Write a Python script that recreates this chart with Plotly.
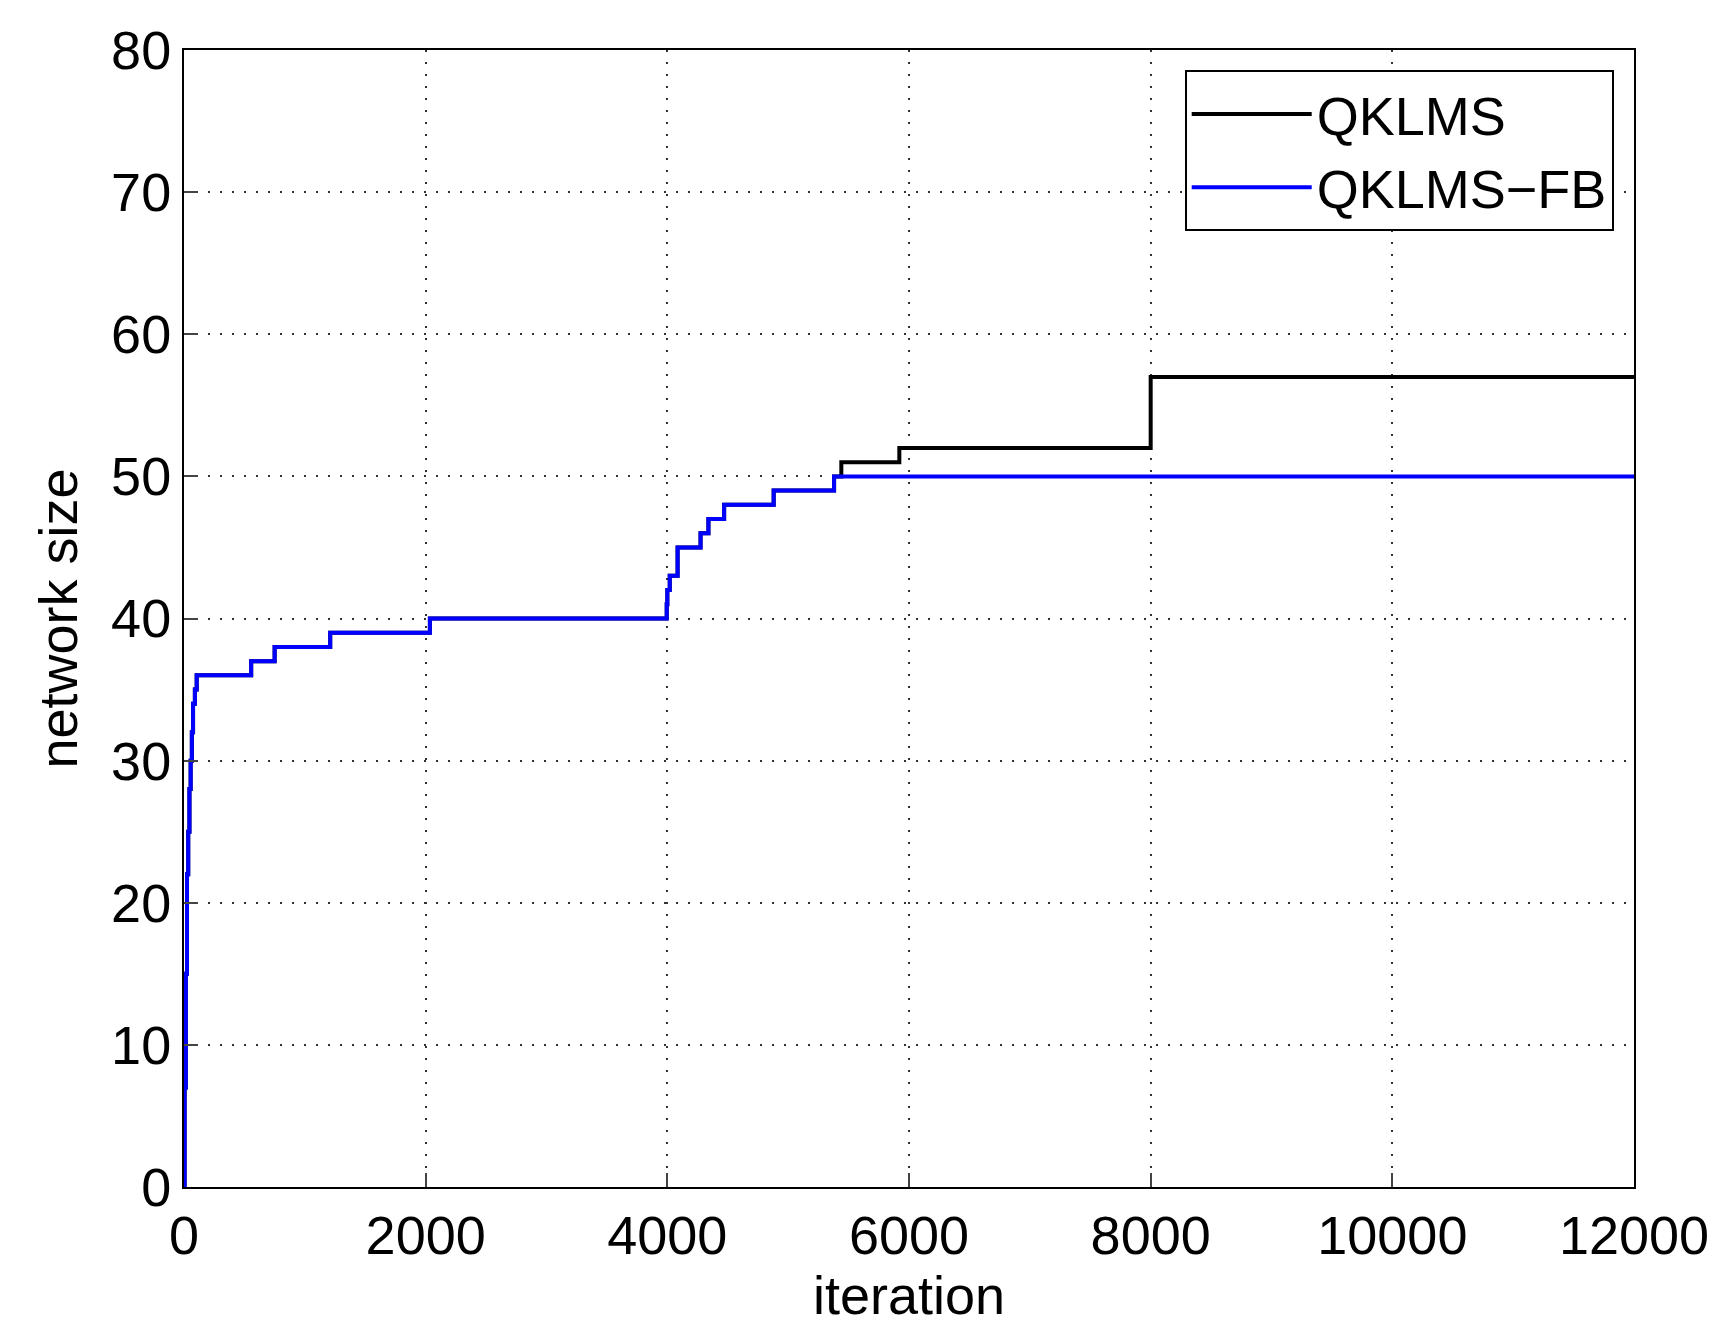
import plotly.graph_objects as go

# step points (iteration, network size)
fb_iter = [0, 5, 15, 25, 35, 45, 55, 65, 75, 90, 105, 556, 750, 1210, 2035, 3995, 4000, 4020, 4085,
           4275, 4340, 4470, 4880, 5380, 12000]
fb_size = [0, 7, 15, 22, 25, 28, 30, 32, 34, 35, 36, 37, 38, 39, 40, 41, 42, 43, 45,
           46, 47, 48, 49, 50, 50]

q_iter = fb_iter[:-1] + [5440, 5920, 8000, 12000]
q_size = fb_size[:-1] + [51, 52, 57, 57]

font = dict(family="Liberation Sans, Arial, sans-serif", size=54, color="black")

fig = go.Figure()
fig.add_trace(go.Scatter(x=q_iter, y=q_size, mode="lines", line_shape="hv",
                         line=dict(color="black", width=4), name="QKLMS"))
fig.add_trace(go.Scatter(x=fb_iter, y=fb_size, mode="lines", line_shape="hv",
                         line=dict(color="#0000ff", width=4), name="QKLMS\u2212FB"))

axis = dict(showline=True, linecolor="black", linewidth=2, mirror=True, ticks="inside",
            ticklen=14, tickwidth=2, showgrid=True, gridcolor="#333", griddash="2px,10px",
            gridwidth=1.5, zeroline=False, tickfont=font, exponentformat="none",
            separatethousands=False)
fig.update_layout(
    width=1719, height=1329, plot_bgcolor="white", paper_bgcolor="white",
    margin=dict(l=176, r=93, t=36, b=150),
    font=font,
    xaxis=dict(axis, range=[0, 12000], dtick=2000, tickformat="d",
               title=dict(text="iteration", font=font, standoff=4)),
    yaxis=dict(axis, range=[0, 80], dtick=10,
               title=dict(text="network size", font=font, standoff=16)),
    legend=dict(x=0.986, y=0.982, xanchor="right", yanchor="top", bgcolor="white",
                bordercolor="black", borderwidth=2, font=font, itemwidth=120,
                tracegroupgap=4),
    showlegend=True,
)
fig.write_html("out.html")
